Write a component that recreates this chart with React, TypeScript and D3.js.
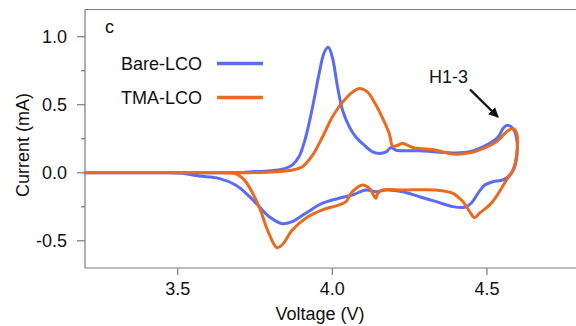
import React from "react";
import * as d3 from "d3";

// Cyclic voltammetry, Bare-LCO vs TMA-LCO (voltage in V, current in mA)
const bareV = [3.2, 3.5, 3.7, 3.73, 3.8, 3.838, 3.871, 3.892, 3.914, 3.936, 3.957, 3.974, 3.987, 4.0, 4.017, 4.033, 4.055, 4.076, 4.103, 4.13, 4.152, 4.174, 4.19, 4.206, 4.282, 4.39, 4.444, 4.498, 4.536, 4.552, 4.565, 4.584, 4.595,
  4.595, 4.579, 4.552, 4.519, 4.493, 4.471, 4.449, 4.428, 4.39, 4.336, 4.282, 4.228, 4.174, 4.141, 4.109, 4.065, 4.022, 3.968, 3.914, 3.871, 3.838, 3.795, 3.763, 3.73, 3.687, 3.633, 3.568, 3.513, 3.45, 3.2];
const bareI = [0, 0, 0.002, 0.006, 0.015, 0.026, 0.058, 0.117, 0.263, 0.483, 0.727, 0.885, 0.922, 0.849, 0.629, 0.459, 0.337, 0.263, 0.203, 0.154, 0.142, 0.154, 0.186, 0.166, 0.161, 0.146, 0.154, 0.203, 0.263, 0.325, 0.349, 0.325, 0.263,
  0.093, -0.004, -0.053, -0.066, -0.09, -0.151, -0.224, -0.253, -0.249, -0.212, -0.176, -0.139, -0.127, -0.139, -0.127, -0.163, -0.187, -0.224, -0.297, -0.358, -0.375, -0.322, -0.249, -0.17, -0.09, -0.041, -0.024, -0.004, 0, 0];

const tmaV = [3.2, 3.5, 3.7, 3.73, 3.8, 3.871, 3.903, 3.936, 3.968, 4.0, 4.033, 4.065, 4.087, 4.114, 4.136, 4.152, 4.184, 4.195, 4.207, 4.228, 4.26, 4.336, 4.39, 4.444, 4.487, 4.53, 4.563, 4.584, 4.597,
  4.595, 4.584, 4.563, 4.547, 4.53, 4.509, 4.476, 4.46, 4.444, 4.422, 4.39, 4.336, 4.228, 4.163, 4.147, 4.141, 4.13, 4.125, 4.098, 4.065, 4.044, 4.022, 3.968, 3.914, 3.871, 3.838, 3.821, 3.79, 3.763, 3.73, 3.712, 3.692, 3.67, 3.6, 3.2];
const tmaI = [0, 0, 0, 0.001, 0.005, 0.02, 0.044, 0.129, 0.263, 0.41, 0.519, 0.593, 0.62, 0.593, 0.519, 0.451, 0.288, 0.195, 0.199, 0.215, 0.186, 0.166, 0.137, 0.146, 0.178, 0.227, 0.3, 0.325, 0.283,
  0.117, 0.02, -0.053, -0.114, -0.176, -0.236, -0.297, -0.331, -0.285, -0.212, -0.151, -0.127, -0.127, -0.127, -0.151, -0.187, -0.151, -0.127, -0.09, -0.139, -0.212, -0.236, -0.273, -0.334, -0.419, -0.529, -0.551, -0.419, -0.249, -0.1, -0.045, -0.012, -0.002, 0, 0];

const seriesNames = ["Bare-LCO", "TMA-LCO"];
const seriesColors = ["#5a6cf2", "#ea6a1f"];
const xTicks = [3.5, 4.0, 4.5];
const yTicks = [-0.5, 0.0, 0.5, 1.0];
const yMinorTicks = [-0.25, 0.25, 0.75];

const W = 576;
const H = 326;
const FONT = "'Liberation Sans', Arial, Helvetica, sans-serif";

export default function App() {
  const x = d3.scaleLinear().domain([3.2, 4.8]).range([85, 579.7]);
  const y = d3.scaleLinear().domain([-0.7, 1.2]).range([268, 9.5]);

  const line = d3
    .line<[number, number]>()
    .x((d) => x(d[0]))
    .y((d) => y(d[1]))
    .curve(d3.curveCatmullRom.alpha(0.5));

  const series = [
    { name: seriesNames[0], color: seriesColors[0], pts: bareV.map((v, i) => [v, bareI[i]] as [number, number]) },
    { name: seriesNames[1], color: seriesColors[1], pts: tmaV.map((v, i) => [v, tmaI[i]] as [number, number]) },
  ];

  const axisColor = "#7a7a7a";
  const x0 = x(3.2);
  const x1 = x(4.8);
  const yTop = y(1.2);
  const yBot = y(-0.7);

  return (
    <svg width={W} height={H} style={{ position: "absolute", left: 0, top: 0, background: "#fff" }} fontFamily={FONT}>
      <defs>
        <marker id="arrowHead" viewBox="0 0 10 10" refX="9" refY="5" markerWidth="4.2" markerHeight="4.2" orient="auto">
          <path d="M0,0 L10,5 L0,10 z" fill="#111" />
        </marker>
      </defs>

      {/* frame */}
      <line x1={x0} x2={x1} y1={yTop} y2={yTop} stroke={axisColor} strokeWidth={1.2} />
      <line x1={x0} x2={x1} y1={yBot} y2={yBot} stroke={axisColor} strokeWidth={1.2} />
      <line x1={x0} x2={x0} y1={yTop} y2={yBot} stroke={axisColor} strokeWidth={1.2} />

      {/* y ticks */}
      {yTicks.map((t) => (
        <g key={"y" + t}>
          <line x1={x0 - 8} x2={x0} y1={y(t)} y2={y(t)} stroke={axisColor} strokeWidth={1.2} />
          <text x={x0 - 18} y={y(t)} dy="0.35em" textAnchor="end" fontSize={18} fill="#111">
            {t.toFixed(1)}
          </text>
        </g>
      ))}
      {yMinorTicks.map((t) => (
        <line key={"ym" + t} x1={x0 - 4} x2={x0} y1={y(t)} y2={y(t)} stroke={axisColor} strokeWidth={1.2} />
      ))}

      {/* x ticks */}
      {xTicks.map((t) => (
        <g key={"x" + t}>
          <line x1={x(t)} x2={x(t)} y1={yBot} y2={yBot + 7} stroke={axisColor} strokeWidth={1.2} />
          <text x={x(t)} y={yBot + 27} textAnchor="middle" fontSize={18} fill="#111">
            {t.toFixed(1)}
          </text>
        </g>
      ))}

      {/* axis titles */}
      <text x={320} y={320} textAnchor="middle" fontSize={18} fill="#111">
        Voltage (V)
      </text>
      <text transform="translate(29,145) rotate(-90)" textAnchor="middle" fontSize={18} fill="#111">
        Current (mA)
      </text>

      {/* panel letter */}
      <text x={105} y={33} fontSize={18} fill="#111">
        c
      </text>

      {/* curves */}
      {series.map((s) => (
        <path key={s.name} d={line(s.pts) || ""} fill="none" stroke={s.color} strokeWidth={3} strokeLinejoin="round" strokeLinecap="round" />
      ))}

      {/* legend */}
      {series.map((s, i) => {
        const ly = 63.5 + i * 34;
        return (
          <g key={"lg" + s.name}>
            <text x={202} y={ly} dy="0.35em" textAnchor="end" fontSize={18} fill="#111">
              {s.name}
            </text>
            <line x1={217} x2={263} y1={ly} y2={ly} stroke={s.color} strokeWidth={3.5} />
          </g>
        );
      })}

      {/* annotation */}
      <text x={429} y={83} fontSize={18} fill="#111">
        H1-3
      </text>
      <line x1={470} y1={89.5} x2={498} y2={117} stroke="#111" strokeWidth={2.4} markerEnd="url(#arrowHead)" />
    </svg>
  );
}
